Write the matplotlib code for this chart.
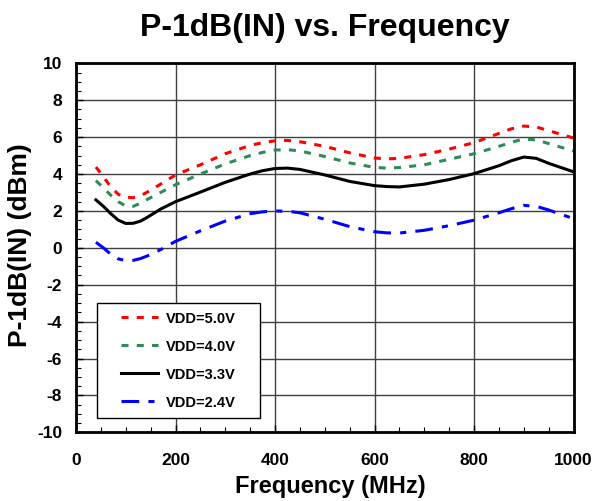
import matplotlib
matplotlib.use("Agg")
import matplotlib.pyplot as plt
from matplotlib.ticker import MultipleLocator
from matplotlib.patches import Rectangle

plt.rcParams['font.family'] = ['Liberation Sans', 'DejaVu Sans']
plt.rcParams['font.weight'] = 'bold'
plt.rcParams['axes.unicode_minus'] = False

freq = [40, 55, 70, 85, 100, 115, 130, 145, 170, 200, 250, 300, 350, 375, 400, 425, 450,
        500, 550, 600, 625, 650, 700, 750, 800, 850, 875, 900, 925, 950, 1000]
vdd50 = [4.38, 3.85, 3.3, 2.9, 2.73, 2.72, 2.82, 3.05, 3.45, 3.95, 4.5, 5.1, 5.55, 5.7, 5.8, 5.82, 5.75,
         5.5, 5.15, 4.87, 4.82, 4.85, 5.05, 5.35, 5.7, 6.2, 6.45, 6.6, 6.55, 6.35, 5.95]
vdd40 = [3.64, 3.25, 2.85, 2.5, 2.27, 2.25, 2.42, 2.65, 3.0, 3.42, 4.0, 4.55, 5.0, 5.17, 5.3, 5.32, 5.25,
         4.95, 4.6, 4.36, 4.32, 4.35, 4.5, 4.8, 5.1, 5.5, 5.72, 5.9, 5.85, 5.65, 5.25]
vdd33 = [2.6, 2.25, 1.85, 1.5, 1.32, 1.33, 1.45, 1.68, 2.1, 2.5, 3.02, 3.55, 4.0, 4.18, 4.3, 4.32, 4.25,
         3.95, 3.6, 3.37, 3.32, 3.3, 3.45, 3.7, 4.02, 4.45, 4.72, 4.92, 4.85, 4.58, 4.12]
vdd24 = [0.3, 0.0, -0.35, -0.6, -0.69, -0.68, -0.58, -0.42, -0.1, 0.35, 0.92, 1.45, 1.85, 1.95, 2.0, 1.98, 1.9,
         1.55, 1.15, 0.87, 0.81, 0.8, 0.95, 1.2, 1.5, 1.9, 2.12, 2.3, 2.25, 2.05, 1.58]
labels = ['VDD=5.0V', 'VDD=4.0V', 'VDD=3.3V', 'VDD=2.4V']

fig = plt.figure(figsize=(5.98, 5.01), dpi=100)
ax = fig.add_axes([0.1271, 0.1371, 0.832, 0.7365])

lw = 2.2
h1, = ax.plot(freq, vdd50, color='#ff0000', lw=lw, dashes=(2.3, 2.7))
h2, = ax.plot(freq, vdd40, color='#2e8b57', lw=lw, dashes=(2.3, 2.7))
h3, = ax.plot(freq, vdd33, color='#000000', lw=lw)
h4, = ax.plot(freq, vdd24, color='#0000ff', lw=lw, dashes=(5.8, 3.0, 2.0, 3.0))

ax.set_xlim(0, 1000)
ax.set_ylim(-10, 10)
ax.xaxis.set_major_locator(MultipleLocator(200))
ax.xaxis.set_minor_locator(MultipleLocator(50))
ax.yaxis.set_major_locator(MultipleLocator(2))
ax.yaxis.set_minor_locator(MultipleLocator(0.5))
ax.tick_params(which='both', direction='in', top=False, right=False)
ax.tick_params(which='major', length=5, width=1, labelsize=12.5)
ax.tick_params(axis='y', which='major', pad=10)
ax.tick_params(axis='x', which='major', pad=15)
ax.tick_params(which='minor', length=3.5, width=0.8)
for lab in ax.get_xticklabels() + ax.get_yticklabels():
    lab.set_fontweight('bold')
ax.grid(True, which='major', color='#404040', lw=1.0)
for s in ax.spines.values():
    s.set_linewidth(2)

fig.text(325 / 598, 1 - 36 / 501, 'P-1dB(IN) vs. Frequency', fontsize=23,
         fontweight='bold', ha='center', va='baseline')
fig.text(330 / 598, 1 - 487 / 501, 'Frequency (MHz)', fontsize=17,
         fontweight='bold', ha='center', va='center')
fig.text(20 / 598, 1 - 245 / 501, 'P-1dB(IN) (dBm)', fontsize=19,
         fontweight='bold', ha='center', va='center', rotation=90)

# legend frame
bx, by, bw, bh = 0.0416, 0.038, 0.328, 0.313
ax.add_patch(Rectangle((bx, by), bw, bh, transform=ax.transAxes,
                       facecolor='white', edgecolor='black', lw=1.0, zorder=4))
leg = ax.legend([h1, h2, h3, h4], labels, loc='center',
                bbox_to_anchor=(bx + bw / 2, by + bh / 2),
                frameon=False, prop={'weight': 'bold', 'size': 10.5},
                handlelength=2.5, labelspacing=0.96, handletextpad=0.55,
                borderpad=0, borderaxespad=0)
leg.set_zorder(5)

fig.savefig('out.png', dpi=100)
